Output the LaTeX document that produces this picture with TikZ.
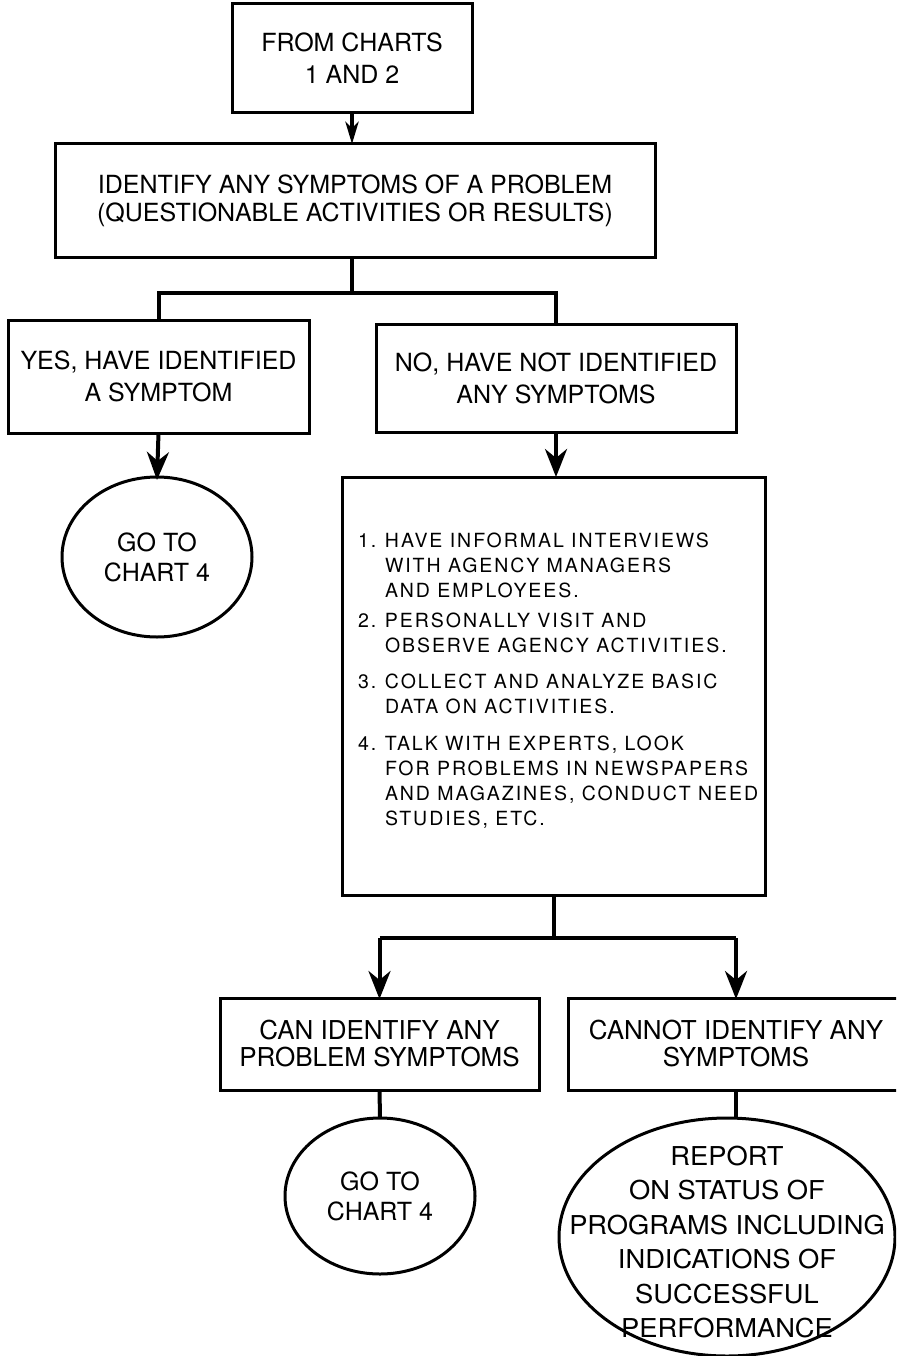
\documentclass[tikz,border=0pt]{standalone}
\usepackage{fontspec}
\setmainfont{TeX Gyre Heros}
\newfontfamily\listfont[LetterSpace=10]{TeX Gyre Heros}
\newfontfamily\widefont[FakeStretch=1.05]{TeX Gyre Heros}
\usetikzlibrary{arrows.meta,shapes.geometric}
\begin{document}
\begin{tikzpicture}[x=1pt,y=-1pt,
  every node/.style={inner sep=0pt, outer sep=0pt},
  box/.style={draw, line width=3pt, rectangle, align=center,
              font=\fontsize{25}{32}\selectfont},
  oval/.style={draw, line width=3pt, ellipse, align=center,
               font=\fontsize{25}{30}\selectfont},
  wire/.style={line width=4pt},
  arr/.style={wire, -{Stealth[length=28pt,width=22pt,inset=9pt]}},
  arrsmall/.style={wire, -{Stealth[length=22pt,width=13pt,inset=6pt]}}
]
\useasboundingbox (0,0) rectangle (896,1356);
\clip (0,0) rectangle (896,1356);

% upper part
\node[box, minimum width=240pt, minimum height=109pt] (top) at (352,58.5)
  {FROM CHARTS\\1 AND 2};
\node[box, minimum width=600pt, minimum height=113pt, font=\fontsize{25}{28}\selectfont]
  (ident) at (355,200.5)
  {IDENTIFY ANY SYMPTOMS OF A PROBLEM\\(QUESTIONABLE ACTIVITIES OR RESULTS)};
\node[box, minimum width=301pt, minimum height=113pt] (yes) at (158.5,376.5)
  {YES, HAVE IDENTIFIED\\A SYMPTOM};
\node[box, minimum width=360pt, minimum height=108pt] (no) at (556,378)
  {NO, HAVE NOT IDENTIFIED\\ANY SYMPTOMS};
\node[oval, minimum width=190pt, minimum height=160pt] (go1) at (157,557)
  {GO TO\\CHART 4};

% list of steps
\node[box, minimum width=423pt, minimum height=418pt] (list) at (553.5,686) {};
\node[anchor=north west, font=\listfont\fontsize{19.5}{25}\selectfont] (steps) at (358,530)
  {\begin{tabular}{@{}p{27pt}@{}l@{}}
   1. & HAVE INFORMAL INTERVIEWS\\
      & WITH AGENCY MANAGERS\\
      & AND EMPLOYEES.\\[5pt]
   2. & PERSONALLY VISIT AND\\
      & OBSERVE AGENCY ACTIVITIES.\\[11pt]
   3. & COLLECT AND ANALYZE BASIC\\
      & DATA ON ACTIVITIES.\\[12pt]
   4. & TALK WITH EXPERTS, LOOK\\
      & FOR PROBLEMS IN NEWSPAPERS\\
      & AND MAGAZINES, CONDUCT NEED\\
      & STUDIES, ETC.
   \end{tabular}};

% lower part
\node[box, minimum width=319pt, minimum height=92pt, font=\fontsize{26}{27}\selectfont]
  (can) at (379.5,1044) {CAN IDENTIFY ANY\\PROBLEM SYMPTOMS};
\node[box, minimum width=336pt, minimum height=92pt, font=\fontsize{26}{27}\selectfont]
  (cannot) at (736,1044) {CANNOT IDENTIFY ANY\\SYMPTOMS};
\node[oval, minimum width=190pt, minimum height=156pt] (go2) at (380,1196)
  {GO TO\\CHART 4};
\node[oval, minimum width=336pt, minimum height=238pt] (report) at (727,1237) {};
\node[align=center, font=\widefont\fontsize{26}{34.5}\selectfont] (reporttext) at (727,1242)
  {REPORT\\ON STATUS OF\\PROGRAMS INCLUDING\\INDICATIONS OF\\SUCCESSFUL\\PERFORMANCE};

% connectors
\coordinate (j1) at (352,293);
\coordinate (j2) at (554,938);
\draw[arrsmall] (top.south) -- (top.south |- ident.north);
\draw[wire] (ident.south -| j1) -- (j1);
\draw[wire, line join=miter] (yes.north) -- (yes.north |- j1) -- (no.north |- j1) -- (no.north);
\draw[arr] (yes.south) -- ([yshift=-3pt]go1.north);
\draw[arr] (no.south) -- (no.south |- list.north);
\draw[wire] (list.south -| j2) -- (j2);
\draw[wire, line join=miter] (can.north |- j2) -- (cannot.north |- j2);
\draw[arr] (can.north |- j2) -- ([yshift=-1pt]can.north);
\draw[arr] (cannot.north |- j2) -- ([yshift=-1pt]cannot.north);
\draw[wire] (can.south) -- (go2.north);
\draw[wire] (cannot.south) -- ([yshift=1pt]cannot.south |- report.north);
\end{tikzpicture}
\end{document}
